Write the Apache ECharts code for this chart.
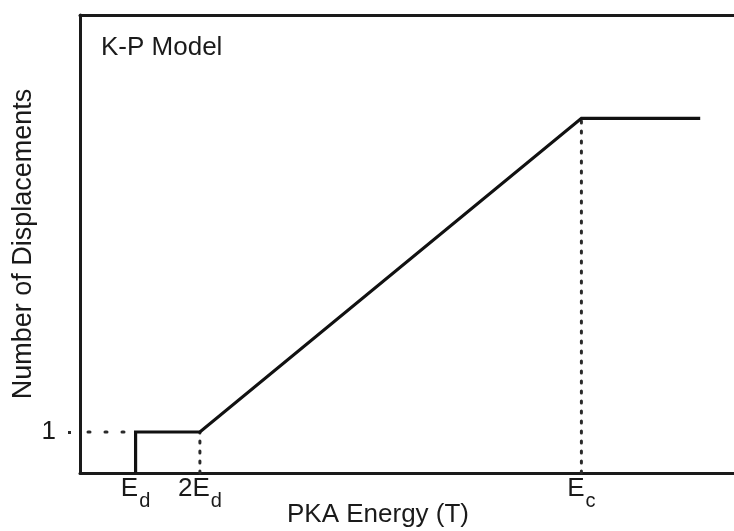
<!DOCTYPE html>
<html>
<head>
<meta charset="utf-8">
<script src="https://cdn.jsdelivr.net/npm/echarts@6/dist/echarts.min.js"></script>
<style>
  html, body { margin: 0; padding: 0; background: #fff; }
  #chart { width: 734px; height: 531px; }
</style>
</head>
<body>
<div id="chart"></div>
<script>
// Kinchin-Pease displacement model (schematic units)
const energyTickValues = [1.02, 2.2, 9.2];          // E_d, 2E_d, E_c
const energyTickLabels = ['{b|E}{s|d}', '{b|2E}{s|d}', '{b|E}{s|c}'];
const curveEnergy = [1.02, 1.02, 2.2, 9.2, 11.38];
const curveDisplacements = [0, 1, 1, 8.65, 8.65];
const guideOneX = [0, 1.02];                         // dotted level at N = 1
const guideOneY = [1, 1];
const guide2EdX = [2.2, 2.2];
const guide2EdY = [0, 1];
const guideEcX = [9.2, 9.2];
const guideEcY = [0, 8.65];
const displacementTicks = [1];

const pairs = (xs, ys) => xs.map((x, i) => [x, ys[i]]);

const FONT = '"Liberation Sans", Arial, Helvetica, sans-serif';
const INK = '#1a1a1a';
const DOT = '#2a2a2a';

const chart = echarts.init(document.getElementById('chart'), null, { renderer: 'canvas' });

const dotted = (data, dash, offset) => ({
  type: 'line',
  data,
  symbol: 'none',
  clip: false,
  silent: true,
  lineStyle: { color: DOT, width: 3, type: dash, dashOffset: offset || 0, cap: 'round' },
  z: 1
});

chart.setOption({
  animation: false,
  backgroundColor: '#fff',
  title: {
    text: 'K-P Model',
    left: 96,
    top: 30,
    textStyle: { fontFamily: FONT, fontSize: 26, fontWeight: 'normal', color: INK }
  },
  grid: {
    left: 80, right: 0, top: 15, bottom: 58,
    containLabel: false,
    outerBoundsMode: 'none'
  },
  xAxis: [
    {
      type: 'value',
      min: 0,
      max: 12,
      splitLine: { show: false },
      axisTick: { show: false },
      axisLine: { show: true, onZero: false, lineStyle: { color: INK, width: 3 } },
      axisLabel: {
        customValues: energyTickValues,
        formatter: (v) => energyTickLabels[energyTickValues.indexOf(v)] || '',
        margin: 3,
        color: INK,
        rich: {
          b: { fontFamily: FONT, fontSize: 26, lineHeight: 26, color: INK, verticalAlign: 'top' },
          s: { fontFamily: FONT, fontSize: 20, lineHeight: 35, color: INK, verticalAlign: 'bottom', padding: [0, 0, 0, 1] }
        }
      },
      name: 'PKA Energy (T)',
      nameLocation: 'middle',
      nameGap: 29,
      nameMoveOverlap: false,
      nameTextStyle: { fontFamily: FONT, fontSize: 26, color: INK, padding: [0, 58, 0, 0] }
    },
    {
      type: 'value',
      position: 'top',
      min: 0,
      max: 12,
      splitLine: { show: false },
      axisTick: { show: false },
      axisLabel: { show: false },
      axisLine: { show: true, onZero: false, lineStyle: { color: INK, width: 3 } }
    }
  ],
  yAxis: {
    type: 'value',
    min: 0,
    max: 11.17,
    splitLine: { show: false },
    // single dotted tick outside the axis at N = 1
    axisTick: {
      show: true,
      customValues: displacementTicks,
      length: 12,
      lineStyle: { color: DOT, width: 3, type: [3, 20], dashOffset: 14, cap: 'butt' }
    },
    axisLine: { show: true, onZero: false, lineStyle: { color: INK, width: 3 } },
    axisLabel: {
      customValues: displacementTicks,
      formatter: (v) => String(v),
      margin: 24,
      fontFamily: FONT,
      fontSize: 26,
      color: INK
    },
    name: 'Number of Displacements',
    nameLocation: 'middle',
    nameGap: 43,
    nameRotate: 90,
    nameMoveOverlap: false,
    nameTextStyle: { fontFamily: FONT, fontSize: 27, color: INK }
  },
  series: [
    dotted(pairs(guideOneX, guideOneY), [2, 15], 9),
    dotted(pairs(guide2EdX, guide2EdY), [2, 8]),
    dotted(pairs(guideEcX, guideEcY), [2, 8]),
    {
      type: 'line',
      data: pairs(curveEnergy, curveDisplacements),
      symbol: 'none',
      clip: false,
      lineStyle: { color: '#111', width: 3.2, join: 'miter' },
      z: 3
    }
  ]
});
</script>
</body>
</html>
